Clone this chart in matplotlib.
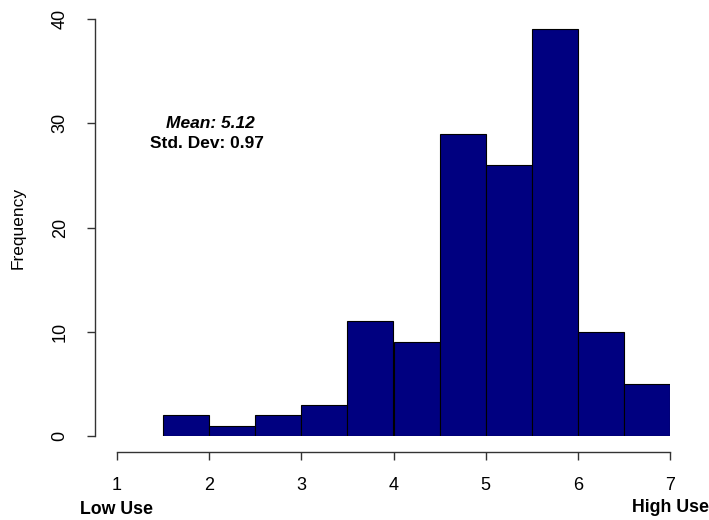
import matplotlib.pyplot as plt
import numpy as np

plt.rcParams['font.family'] = ['Liberation Sans', 'DejaVu Sans']

# histogram bins (width 0.5) and their counts
bin_edges = [1.5, 2.0, 2.5, 3.0, 3.5, 4.0, 4.5, 5.0, 5.5, 6.0, 6.5, 7.0]
counts = [2, 1, 2, 3, 11, 9, 29, 26, 39, 10, 5]
x_ticks = [1, 2, 3, 4, 5, 6, 7]
y_ticks = [0, 10, 20, 30, 40]
mean_val = 5.12
sd_val = 0.97

fig = plt.figure(figsize=(7.09, 5.20), dpi=100)
ax = fig.add_axes([117 / 709, 84 / 520, 553 / 709, 417 / 520])

edges = np.array(bin_edges)
ax.bar(edges[:-1], counts, width=np.diff(edges), align='edge',
       color='#000080', edgecolor='black', linewidth=0.8)

ax.set_xlim(1, 7)
ax.set_ylim(0, 40)

for s in ['top', 'right']:
    ax.spines[s].set_visible(False)
ax.spines['left'].set_position(('outward', 15.8))
ax.spines['bottom'].set_position(('outward', 11.5))
ax.spines['left'].set_bounds(0, 40)
ax.spines['bottom'].set_bounds(1, 7)
for s in ['left', 'bottom']:
    ax.spines[s].set_color('#333333')
    ax.spines[s].set_linewidth(1.0)

ax.set_xticks(x_ticks)
ax.set_yticks(y_ticks)
ax.tick_params(axis='both', length=6, width=1.0, color='#333333',
               labelsize=13)
ax.tick_params(axis='x', pad=12)
ax.tick_params(axis='y', pad=13, labelrotation=90)
for lab in ax.get_yticklabels():
    lab.set_va('center')

ax.set_ylabel('Frequency', fontsize=12.5, labelpad=19)

ax.text(210 / 709, 1 - 124 / 520, 'Mean: %.2f' % mean_val, transform=fig.transFigure,
        ha='center', va='center', fontsize=12.5, fontweight='bold', fontstyle='italic')
ax.text(207 / 709, 1 - 143 / 520, 'Std. Dev: %.2f' % sd_val, transform=fig.transFigure,
        ha='center', va='center', fontsize=12.5, fontweight='bold')

fig.text(116 / 709, 1 - 510 / 520, 'Low Use', ha='center', va='center',
         fontsize=12.8, fontweight='bold')
fig.text(670 / 709, 1 - 508 / 520, 'High Use', ha='center', va='center',
         fontsize=12.8, fontweight='bold')

fig.savefig('out.png', dpi=100)
